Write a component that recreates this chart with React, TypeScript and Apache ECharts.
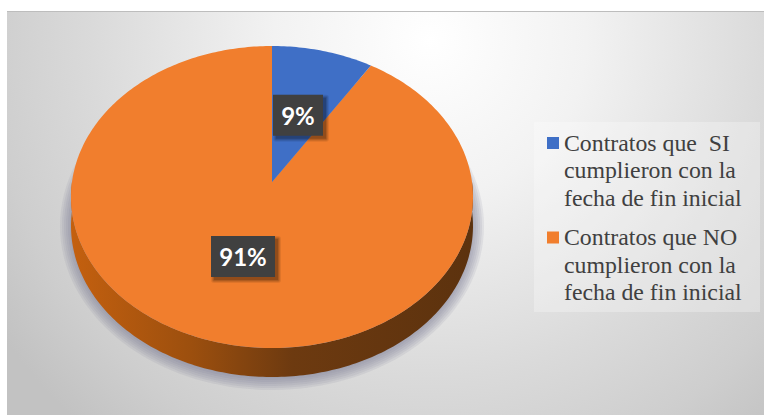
import React, { useEffect, useRef } from "react";
import * as echarts from "echarts";

const categories = [
  "Contratos que  SI\ncumplieron con la\nfecha de fin inicial",
  "Contratos que NO\ncumplieron con la\nfecha de fin inicial",
];
const percentages = [9, 91];
const sliceColors = ["#3f6fc6", "#f17e2d"];
const labelReach = [0.51, 0.47];

const WIDTH = 764;
const HEIGHT = 415;

// Tilted disc: a unit circle seen in perspective, plus the depth of its rim.
const APEX_X = 272;
const APEX_Y = 182;
const SCALE_X = 200;
const SCALE_Y = 149.5;
const TILT = 0.0993;
const DEPTH = 29;

// Clockwise angle from twelve o'clock, in radians, to screen position.
function project(theta: number): [number, number] {
  const u = Math.sin(theta);
  const v = Math.cos(theta);
  const w = 1 + TILT * v;
  return [APEX_X + (SCALE_X * u) / w, APEX_Y - (SCALE_Y * v) / w];
}

function sliceRange(index: number): [number, number] {
  const total = percentages.reduce((a, b) => a + b, 0);
  const before = percentages.slice(0, index).reduce((a, b) => a + b, 0);
  return [(before / total) * 2 * Math.PI, ((before + percentages[index]) / total) * 2 * Math.PI];
}

function rimPoints(start: number, end: number): [number, number][] {
  const steps = Math.max(2, Math.ceil((end - start) * 60));
  const pts: [number, number][] = [];
  for (let i = 0; i <= steps; i++) pts.push(project(start + ((end - start) * i) / steps));
  return pts;
}

function renderSlice(index: number) {
  return (_params: any, api: any) => {
    const value = api.value(0);
    const [start, end] = sliceRange(index);
    const children: any[] = [];

    // Rim of the disc: only the part of the slice that faces the viewer.
    const frontStart = Math.max(start, Math.PI / 2);
    const frontEnd = Math.min(end, (3 * Math.PI) / 2);
    if (frontEnd > frontStart) {
      const front = rimPoints(frontStart, frontEnd);
      const lowered = front.map(([x, y]) => [x, y + DEPTH]).reverse();
      children.push({
        type: "polygon",
        shape: { points: [...front, ...lowered] },
        style: {
          fill: new echarts.graphic.LinearGradient(0, 0, 1, 0, [
            { offset: 0, color: "#c4600f" },
            { offset: 0.3, color: "#9c4f0e" },
            { offset: 0.55, color: "#6d3a10" },
            { offset: 1, color: "#5c320e" },
          ]),
        },
      });
    }

    // Top face of the slice, closed through the centre of the disc.
    children.push({
      type: "polygon",
      shape: { points: [[APEX_X, APEX_Y], ...rimPoints(start, end)] },
      style: { fill: sliceColors[index] },
    });

    // Percentage tag, placed along the slice's middle direction.
    const mid = (start + end) / 2;
    const [mx, my] = project(mid);
    const reach = labelReach[index];
    const cx = APEX_X + (mx - APEX_X) * reach;
    const cy = APEX_Y + (my - APEX_Y) * reach;
    const boxW = 36 + 14 * String(value).length;
    const boxH = 41;

    // Soft drop shadow under the tag, built from stacked translucent plates.
    for (const [grow, offset, alpha] of [
      [3, 3, 0.08],
      [2, 3, 0.1],
      [1, 3, 0.12],
      [0, 3, 0.16],
    ]) {
      children.push({
        type: "rect",
        z2: 5,
        shape: {
          x: cx - boxW / 2 + offset - grow,
          y: cy - boxH / 2 + offset - grow,
          width: boxW + grow * 2,
          height: boxH + grow * 2,
          r: grow,
        },
        style: { fill: `rgba(0,0,0,${alpha})` },
      });
    }
    children.push({
      type: "rect",
      z2: 9,
      shape: { x: cx - boxW / 2, y: cy - boxH / 2, width: boxW, height: boxH },
      style: { fill: "#404040" },
    });
    children.push({
      type: "text",
      x: cx,
      y: cy,
      z2: 10,
      style: {
        text: `${value}%`,
        fill: "#ffffff",
        font: '700 24px Lato, "Open Sans", sans-serif',
        align: "center",
        verticalAlign: "middle",
      },
    });
    return { type: "group", children };
  };
}

export default function App() {
  const ref = useRef<HTMLDivElement>(null);

  useEffect(() => {
    document.body.style.margin = "0";
    const chart = echarts.init(ref.current!, undefined, { renderer: "svg" });

    const legendChildren: any[] = [
      {
        type: "rect",
        shape: { x: 534, y: 122, width: 226, height: 190 },
        style: { fill: "rgba(255,255,255,0.28)" },
      },
    ];
    categories.forEach((name, i) => {
      const top = 129 + i * 94.5;
      legendChildren.push(
        {
          type: "rect",
          shape: { x: 547, y: top + 8, width: 12, height: 12 },
          style: { fill: sliceColors[i] },
        },
        {
          type: "text",
          x: 564,
          y: top,
          style: {
            text: name,
            fill: "#404040",
            font: '23.8px "Liberation Serif", serif',
            lineHeight: 27.5,
          },
        },
      );
    });

    // Soft cast shadow of the disc, widening in faint concentric steps.
    const castShadow = [0, 2, 4, 6, 8, 10, 12, 14].map((grow) => ({
      type: "ellipse",
      shape: { cx: 272, cy: 226, rx: 198 + grow, ry: 150 + grow },
      style: { fill: "rgba(120,125,145,0.12)" },
    }));

    chart.setOption({
      animation: false,
      backgroundColor: "#ffffff",
      graphic: [
        {
          type: "group",
          z: -1,
          silent: true,
          children: [
            {
              type: "rect",
              shape: { x: 7, y: 11, width: 757, height: 404 },
              style: {
                fill: new echarts.graphic.RadialGradient(
                  430,
                  40,
                  520,
                  [
                    { offset: 0, color: "#ffffff" },
                    { offset: 0.3, color: "#f2f2f2" },
                    { offset: 0.65, color: "#dadada" },
                    { offset: 0.85, color: "#cecece" },
                    { offset: 1, color: "#c2c2c2" },
                  ],
                  true,
                ),
              },
            },
            {
              type: "line",
              shape: { x1: 7, y1: 11.5, x2: 764, y2: 11.5 },
              style: { stroke: "#bdbdbd", lineWidth: 1 },
            },
            ...castShadow,
          ],
        },
        { type: "group", silent: true, children: legendChildren },
      ],
      series: categories.map((name, i) => ({
        type: "custom",
        name,
        coordinateSystem: "none",
        silent: true,
        z: i === 0 ? 3 : 2,
        data: [[percentages[i]]],
        renderItem: renderSlice(i),
      })),
    });

    return () => chart.dispose();
  }, []);

  return <div ref={ref} style={{ width: WIDTH, height: HEIGHT }} />;
}
